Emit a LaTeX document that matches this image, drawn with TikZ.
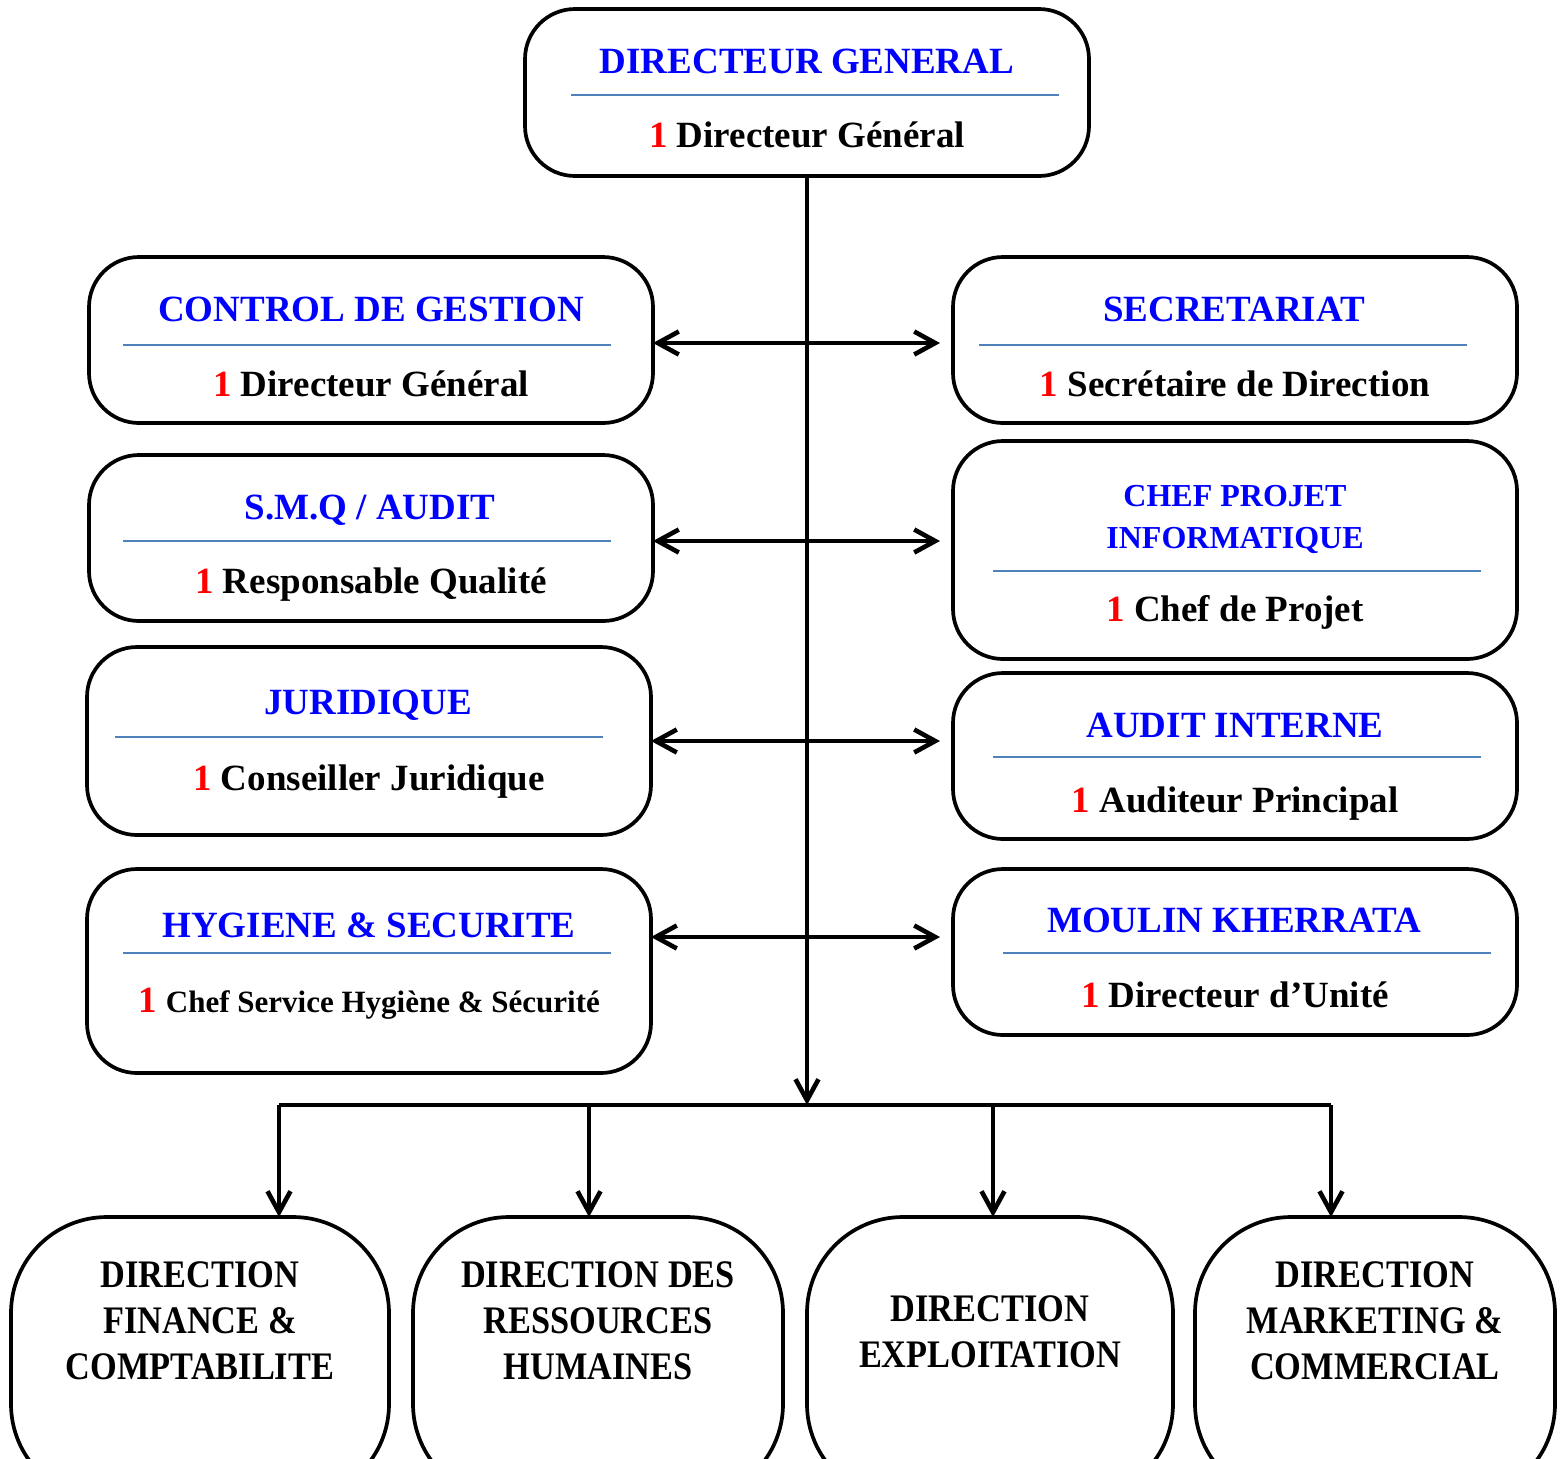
\documentclass[tikz,border=0pt]{standalone}
\usepackage{fontspec}
\setmainfont{Liberation Serif}
\newfontfamily\condfont{Liberation Serif}[FakeStretch=0.88]
\usetikzlibrary{arrows.meta,calc}
\definecolor{ttlc}{RGB}{0,0,255}
\definecolor{numc}{RGB}{255,0,0}
\definecolor{sepc}{RGB}{79,129,189}
\begin{document}
\begin{tikzpicture}[x=0.5pt,y=-0.5pt,
  box/.style={draw, line width=1.85pt, rounded corners=25pt, minimum width=282pt, outer sep=0pt, inner sep=0pt},
  bbox/.style={draw, line width=1.85pt, rounded corners=48pt, minimum height=141.5pt, outer sep=0pt, inner sep=0pt},
  ttl/.style={font=\bfseries\fontsize{18.5}{22}\selectfont, text=ttlc, inner sep=0pt, anchor=base},
  ttls/.style={font=\bfseries\fontsize{16}{21}\selectfont, text=ttlc, inner sep=0pt, anchor=base},
  sub/.style={font=\bfseries\fontsize{18.5}{22}\selectfont, text=black, inner sep=0pt, anchor=base},
  btxt/.style={font=\condfont\bfseries\fontsize{19.5}{23}\selectfont, align=center, inner sep=0pt},
  sepl/.style={draw=sepc, line width=1pt},
  conn/.style={line width=2.3pt},
  arr/.style={line width=2.3pt, -{Straight Barb[length=10.5pt,width=11.5pt]}},
  dbl/.style={line width=2.3pt, {Straight Barb[length=10.5pt,width=11.5pt]}-{Straight Barb[length=10.5pt,width=11.5pt]}, shorten >=6.5pt}
]
\clip (0,0) rectangle (1564,1458);
\fill[white] (0,0) rectangle (1564,1458);

% upper boxes
\node[box, minimum height=83.5pt] (dg)  at (807,92.5) {};
\node[box, minimum height=83pt]   (cg)  at (371,340) {};
\node[box, minimum height=83pt]   (sec) at (1235,340) {};
\node[box, minimum height=83pt]   (smq) at (371,538) {};
\node[box, minimum height=109pt]  (cpi) at (1235,550) {};
\node[box, minimum height=94pt]   (jur) at (369,741) {};
\node[box, minimum height=83pt]   (ai)  at (1235,756) {};
\node[box, minimum height=102pt]  (hyg) at (369,971) {};
\node[box, minimum height=83pt]   (mk)  at (1235,952) {};

% texts
\node[ttl] (dgt) at (807,73) {DIRECTEUR GENERAL};
\draw[sepl] (571,95) -- (1059,95);
\node[sub] (dgs) at (807,147) {\textcolor{numc}{1} Directeur Général};

\node[ttl] (cgt) at (371,321) {CONTROL DE GESTION};
\draw[sepl] (123,345) -- (611,345);
\node[sub] (cgs) at (371,396) {\textcolor{numc}{1} Directeur Général};

\node[ttl] (sect) at (1234,321) {SECRETARIAT};
\draw[sepl] (979,345) -- (1467,345);
\node[sub] (secs) at (1235,396) {\textcolor{numc}{1} Secrétaire de Direction};

\node[ttl] (smqt) at (370,519) {S.M.Q / AUDIT};
\draw[sepl] (123,541) -- (611,541);
\node[sub] (smqs) at (371,593) {\textcolor{numc}{1} Responsable Qualité};

\node[ttls] (cpit1) at (1235,506) {CHEF PROJET};
\node[ttls] (cpit2) at (1235,548) {INFORMATIQUE};
\draw[sepl] (993,571) -- (1481,571);
\node[sub] (cpis) at (1235,621) {\textcolor{numc}{1} Chef de Projet};

\node[ttl] (jurt) at (368,714) {JURIDIQUE};
\draw[sepl] (115,737) -- (603,737);
\node[sub] (jurs) at (369,790) {\textcolor{numc}{1} Conseiller Juridique};

\node[ttl] (ait) at (1235,737) {AUDIT INTERNE};
\draw[sepl] (993,757) -- (1481,757);
\node[sub] (ais) at (1235,812) {\textcolor{numc}{1} Auditeur Principal};

\node[ttl] (hygt) at (369,937) {HYGIENE \& SECURITE};
\draw[sepl] (123,953) -- (611,953);
\node[sub] (hygs) at (369,1012) {\textcolor{numc}{1} {\fontsize{15.5}{20}\selectfont Chef Service Hygiène \& Sécurité}};

\node[ttl] (mkt1) at (1234,932) {MOULIN KHERRATA};
\draw[sepl] (1003,953) -- (1491,953);
\node[sub] (mks) at (1235,1007) {\textcolor{numc}{1} Directeur d’Unité};

% horizontal double arrows
\draw[dbl] (cg.east |- 0,343) -- (sec.west |- 0,343);
\draw[dbl] (smq.east |- 0,541) -- (sec.west |- 0,541);
\draw[dbl] (jur.east) -- (jur.east -| ai.west);
\draw[dbl] (hyg.east |- 0,937) -- (mk.west |- 0,937);

% bottom boxes
\node[bbox, minimum width=189pt] (fin) at (200,1358.5) {};
\node[bbox, minimum width=185pt] (rh)  at (598,1358.5) {};
\node[bbox, minimum width=183pt] (exp) at (990,1358.5) {};
\node[bbox, minimum width=180pt] (mkt) at (1375,1358.5) {};

\node[btxt] (fint) at (200,1321) {DIRECTION\\FINANCE \&\\COMPTABILITE};
\node[btxt] (rht)  at (598,1321) {DIRECTION DES\\RESSOURCES\\HUMAINES};
\node[btxt] (expt) at (990,1332) {DIRECTION\\EXPLOITATION};
\node[btxt] (mktt) at (1375,1321) {DIRECTION\\MARKETING \&\\COMMERCIAL};

% trunk and distribution bar
\coordinate (b1) at (279,1105);
\coordinate (b2) at (589,1105);
\coordinate (b3) at (993,1105);
\coordinate (b4) at (1331,1105);
\draw[arr] (dg.south) -- (dg.south |- b1);
\draw[conn] (b1) -- (b4);
\draw[arr] (b1) -- (b1 |- fin.north);
\draw[arr] (b2) -- (b2 |- rh.north);
\draw[arr] (b3) -- (b3 |- exp.north);
\draw[arr] (b4) -- (b4 |- mkt.north);
\end{tikzpicture}
\end{document}
